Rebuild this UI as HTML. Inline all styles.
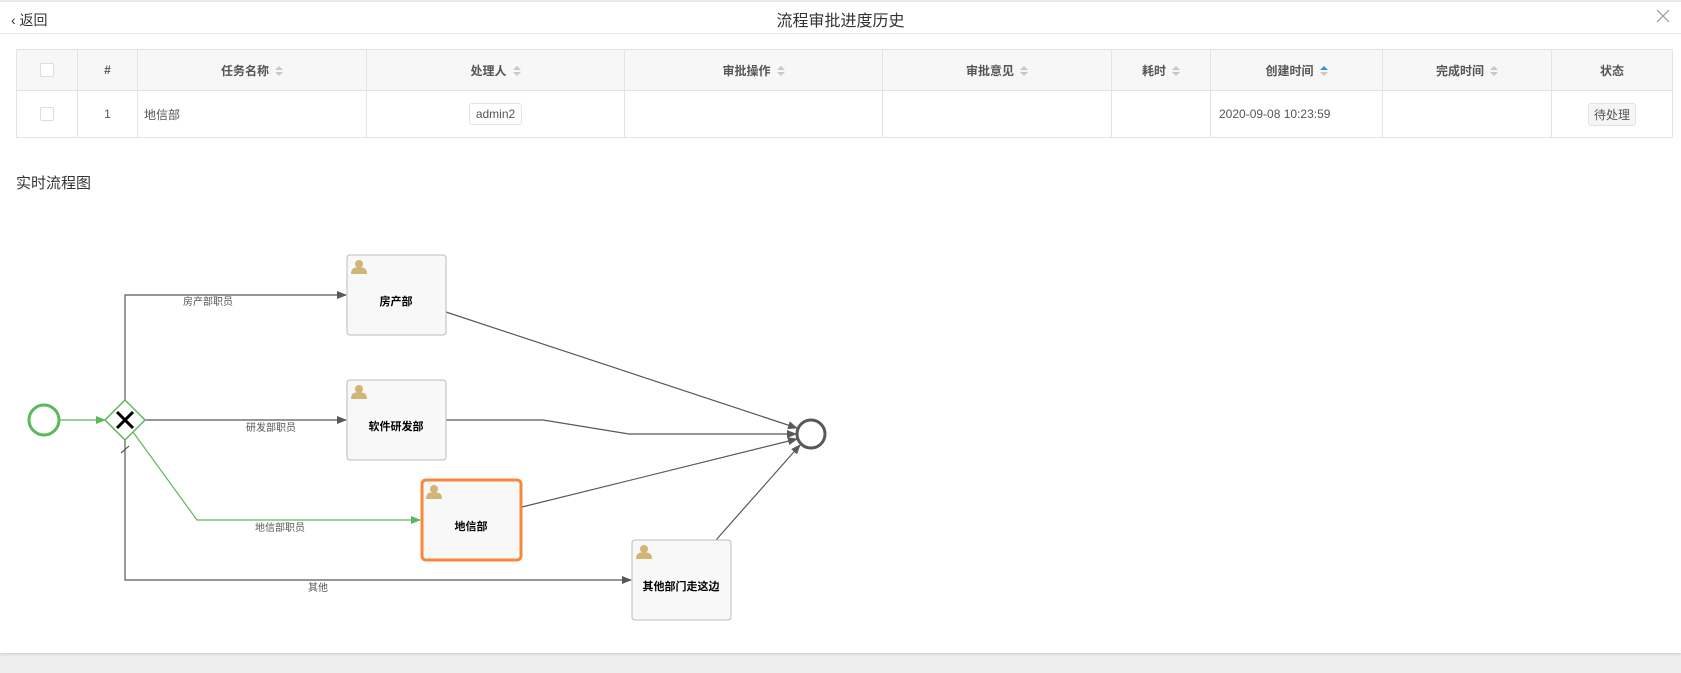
<!DOCTYPE html>
<html><head><meta charset="utf-8"><style>
*{margin:0;padding:0;box-sizing:border-box}
body{width:1681px;height:673px;background:#eee;font-family:"Liberation Sans","Noto Sans CJK SC",sans-serif;position:relative;overflow:hidden;color:#333}
.panel{position:absolute;left:0;top:2px;width:1681px;height:651px;background:#fff;box-shadow:0 1px 3px rgba(0,0,0,.15)}
.hdr{position:absolute;left:0;top:0;width:100%;height:32px;border-bottom:1px solid #e8e8e8}
.back{position:absolute;left:11px;top:8px;font-size:14px;color:#333}
.title{position:absolute;left:0;width:100%;text-align:center;top:5px;font-size:16px;color:#333}
.close{position:absolute;left:1656px;top:7px}
table{position:absolute;left:16px;top:49px;width:1656px;border-collapse:collapse;font-size:12px;color:#555;table-layout:fixed}
td,th{border:1px solid #e4e4e4;text-align:center}
th{height:41px;background:#f7f7f7;font-weight:bold;color:#555}
td{height:47px}
.cb{display:inline-block;width:14px;height:14px;border:1px solid #ddd;border-radius:2px;background:#fff;vertical-align:middle}
.s{display:inline-block;width:8px;height:10px;vertical-align:middle;margin-left:6px;position:relative}
.s:before{content:"";position:absolute;left:0;top:0;border:4px solid transparent;border-bottom:4px solid #c8c8c8;border-top:0}
.s:after{content:"";position:absolute;left:0;top:6px;border:4px solid transparent;border-top:4px solid #c8c8c8;border-bottom:0}
.s.up:before{border-bottom-color:#3a8ee6}
.tag{display:inline-block;border:1px solid #e2e2e2;border-radius:3px;padding:3px 6px;font-size:12px;background:#fff}
.tag2{display:inline-block;border:1px solid #e2e2e2;border-radius:3px;padding:2px 5px;font-size:12px;background:#f5f5f5}
.sec{position:absolute;left:16px;top:172px;font-size:15px;color:#333}
svg{position:absolute;left:0;top:0}
</style></head><body>
<div class="panel">
<div class="hdr"><div class="back">‹ 返回</div><div class="title">流程审批进度历史</div>
<svg class="close" width="14" height="14" style="left:1656px;top:7px"><path d="M1,1L13,13M13,1L1,13" stroke="#999" stroke-width="1.2"/></svg></div>
</div>
<table>
<colgroup><col style="width:61px"><col style="width:60px"><col style="width:229px"><col style="width:258px"><col style="width:258px"><col style="width:229px"><col style="width:99px"><col style="width:172px"><col style="width:169px"><col style="width:121px"></colgroup>
<tr><th><span class="cb"></span></th><th>#</th><th>任务名称<span class="s"></span></th><th>处理人<span class="s"></span></th><th>审批操作<span class="s"></span></th><th>审批意见<span class="s"></span></th><th>耗时<span class="s"></span></th><th>创建时间<span class="s up"></span></th><th>完成时间<span class="s"></span></th><th>状态</th></tr>
<tr><td><span class="cb"></span></td><td>1</td><td style="text-align:left;padding-left:6px">地信部</td><td><span class="tag">admin2</span></td><td></td><td></td><td></td><td style="text-align:left;padding-left:8px">2020-09-08 10:23:59</td><td></td><td><span class="tag2">待处理</span></td></tr>
</table>
<div class="sec">实时流程图</div>
<svg width="1681" height="673" font-family="Liberation Sans, Noto Sans CJK SC, sans-serif">
<defs>
<marker id="a" markerWidth="10" markerHeight="8" refX="9" refY="4" orient="auto" markerUnits="userSpaceOnUse"><path d="M0,0L10,4L0,8z" fill="#585858"/></marker>
<marker id="g" markerWidth="10" markerHeight="8" refX="9" refY="4" orient="auto" markerUnits="userSpaceOnUse"><path d="M0,0L10,4L0,8z" fill="#5cb85c"/></marker>
<g id="u"><circle cx="0" cy="-4" r="4" fill="#d1b574"/><path d="M-8,6 Q-8,0 -3,-0.5 L3,-0.5 Q8,0 8,6z" fill="#d1b574"/></g>
</defs>
<g fill="none" stroke-width="1.2">
<path d="M60,420H105" stroke="#5cb85c" marker-end="url(#g)"/>
<path d="M125,400V295H346" stroke="#585858" marker-end="url(#a)"/>
<path d="M145,420H346" stroke="#585858" marker-end="url(#a)"/>
<path d="M133,432L197,520H420" stroke="#5cb85c" marker-end="url(#g)"/>
<path d="M125,440V580H631" stroke="#585858" marker-end="url(#a)"/>
<path d="M121,453L129,446" stroke="#585858"/>
<path d="M446,312L797,428" stroke="#585858" marker-end="url(#a)"/>
<path d="M446,420H543L629,434H796" stroke="#585858" marker-end="url(#a)"/>
<path d="M522,507L797,439" stroke="#585858" marker-end="url(#a)"/>
<path d="M716,540L800,445" stroke="#585858" marker-end="url(#a)"/>
</g>
<circle cx="44" cy="420" r="15" fill="#fff" stroke="#5cb85c" stroke-width="3"/>
<path d="M125,400L145,420L125,440L105,420z" fill="#fff" stroke="#5cb85c" stroke-width="1.5"/>
<path d="M117,412L133,428M133,412L117,428" stroke="#000" stroke-width="3"/>
<circle cx="811" cy="434" r="14" fill="#fff" stroke="#585858" stroke-width="3"/>
<g fill="#f8f8f8" stroke="#bbb" stroke-width="1">
<rect x="347" y="255" width="99" height="80" rx="3"/>
<rect x="347" y="380" width="99" height="80" rx="3"/>
<rect x="632" y="540" width="99" height="80" rx="3"/>
</g>
<rect x="422" y="480" width="99" height="80" rx="4" fill="#f8f8f8" stroke="#f5883a" stroke-width="3"/>
<use href="#u" x="359" y="268"/><use href="#u" x="359" y="393"/><use href="#u" x="434" y="493"/><use href="#u" x="644" y="553"/>
<g font-size="11" font-weight="bold" fill="#000" text-anchor="middle">
<text x="396" y="305">房产部</text>
<text x="396" y="430">软件研发部</text>
<text x="471" y="530">地信部</text>
<text x="681" y="590">其他部门走这边</text>
</g>
<g font-size="10" fill="#555">
<text x="183" y="305">房产部职员</text>
<text x="246" y="431">研发部职员</text>
<text x="255" y="531">地信部职员</text>
<text x="308" y="591">其他</text>
</g>
</svg>
</body></html>
